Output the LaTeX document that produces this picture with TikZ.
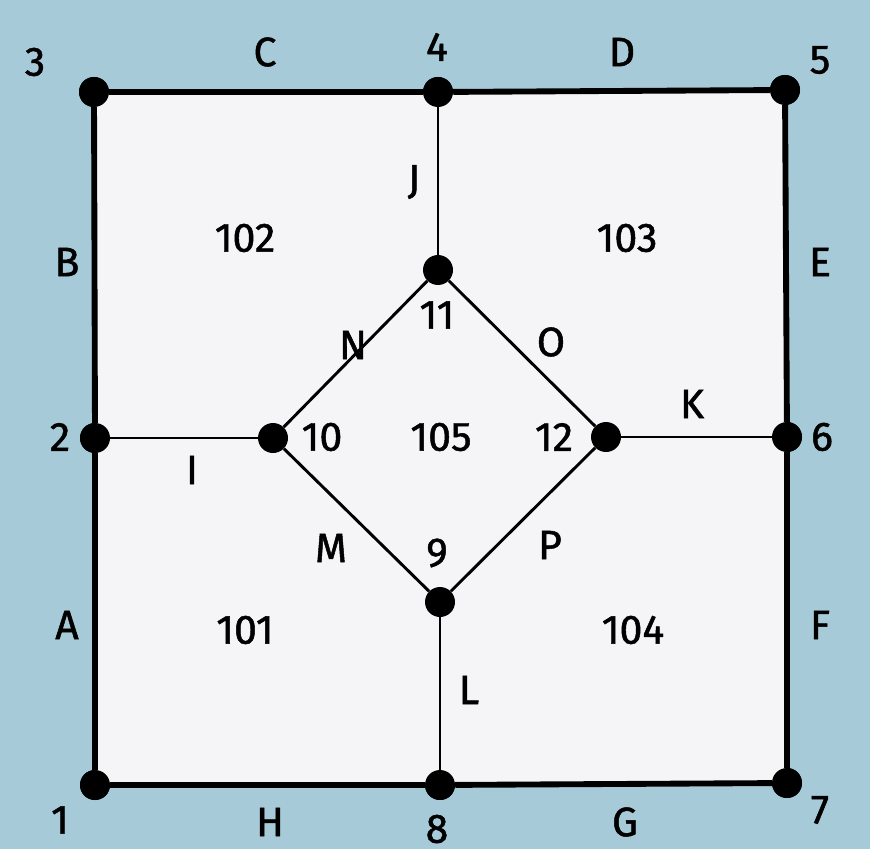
\documentclass[tikz,border=0pt]{standalone}
\usepackage{fontspec}
\setmainfont{Fira Sans}[FakeBold=1.2]
\definecolor{mapblue}{RGB}{166,202,216}
\definecolor{mappaper}{RGB}{245,245,247}

\begin{document}
\begin{tikzpicture}[x=0.03cm,y=-0.03cm,
      every node/.style={font=\fontsize{35}{40}\selectfont},
      vtx/.style={circle,fill=black,inner sep=0pt,minimum size=0.9cm},
      outer/.style={line width=5pt},
      inner/.style={line width=2.5pt}]
    \fill[mapblue] (0,0) rectangle (870,849);
    % vertices
    \node[vtx] (n1)  at (95,785)  {};
    \node[vtx] (n2)  at (95,438)  {};
    \node[vtx] (n3)  at (94,92)   {};
    \node[vtx] (n4)  at (438,92)  {};
    \node[vtx] (n5)  at (785,90)  {};
    \node[vtx] (n6)  at (787,437) {};
    \node[vtx] (n7)  at (787,783) {};
    \node[vtx] (n8)  at (440,785) {};
    \node[vtx] (n9)  at (440,602) {};
    \node[vtx] (n10) at (273,438) {};
    \node[vtx] (n11) at (438,270) {};
    \node[vtx] (n12) at (606,437) {};
    \fill[mappaper] (n3.center) rectangle (n7.center);
    % arcs
    \draw[outer] (n1) -- (n2);
    \draw[outer] (n2) -- (n3);
    \draw[outer] (n3) -- (n4);
    \draw[outer] (n4) -- (n5);
    \draw[outer] (n5) -- (n6);
    \draw[outer] (n6) -- (n7);
    \draw[outer] (n7) -- (n8);
    \draw[outer] (n8) -- (n1);
    \draw[inner] (n2) -- (n10);
    \draw[inner] (n4) -- (n11);
    \draw[inner] (n12) -- (n6);
    \draw[inner] (n9) -- (n8);
    \draw[inner] (n10) -- (n9);
    \draw[inner] (n10) -- (n11);
    \draw[inner] (n11) -- (n12);
    \draw[inner] (n12) -- (n9);
    \foreach \v in {n1,n2,n3,n4,n5,n6,n7,n8,n9,n10,n11,n12}
      \fill (\v) circle (0.45cm);
    % vertex numbers
    \node (v1)  at (60,820)  {1};
    \node (v2)  at (60,437)  {2};
    \node (v3)  at (35,62)   {3};
    \node (v4)  at (437,47)  {4};
    \node (v5)  at (820,60)  {5};
    \node (v6)  at (822,437) {6};
    \node (v7)  at (820,810) {7};
    \node (v8)  at (437,829) {8};
    \node (v9)  at (437,553) {9};
    \node (v10) at (322,437) {10};
    \node (v11) at (437,315) {11};
    \node (v12) at (554,437) {12};
    % arc letters
    \node (lA) at (67,625)  {A};
    \node (lB) at (67,262)  {B};
    \node (lC) at (265,52)  {C};
    \node (lD) at (622,52)  {D};
    \node (lE) at (820,262) {E};
    \node (lF) at (820,625) {F};
    \node (lG) at (625,822) {G};
    \node (lH) at (270,822) {H};
    \node (lI) at (192,470) {I};
    \node (lJ) at (414,182) {J};
    \node (lK) at (692,404) {K};
    \node (lL) at (469,690) {L};
    \node (lM) at (331,548) {M};
    \node (lN) at (353,345) {N};
    \node (lO) at (551,342) {O};
    \node (lP) at (550,545) {P};
    % polygons
    \node (p101) at (245,630) {101};
    \node (p102) at (245,238) {102};
    \node (p103) at (627,238) {103};
    \node (p104) at (633,630) {104};
    \node (p105) at (441,437) {105};
  \end{tikzpicture}
\end{document}
